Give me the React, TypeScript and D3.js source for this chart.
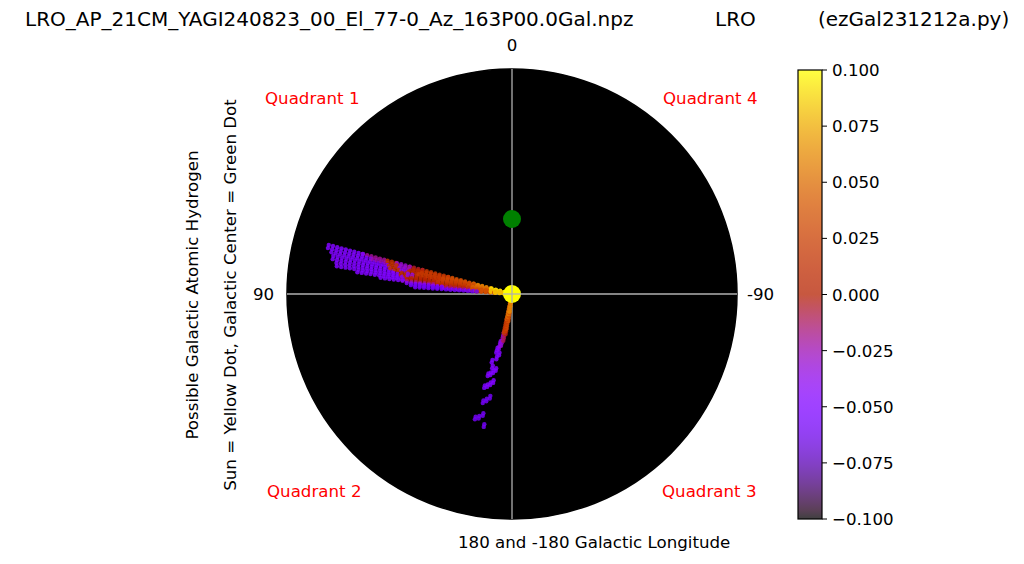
import React from "react";
import * as d3 from "d3";

// ---------- data ----------
const TITLE_PARTS = ["LRO_AP_21CM_YAGI240823_00_El_77-0_Az_163P00.0Gal.npz", "LRO", "(ezGal231212a.py)"];
const QUADRANTS = ["Quadrant 1", "Quadrant 2", "Quadrant 3", "Quadrant 4"];
const CBAR_TICKS = [-0.1, -0.075, -0.05, -0.025, 0, 0.025, 0.05, 0.075, 0.1];
const SUN_TO_GC_KPC = 8.5;
const PLOT_RADIUS_KPC = 25.5;

// Left arm: lines of sight (galactic longitude, deg) and value segments [dStart, dEnd, value] (kpc)
const LEFT_LON = [75, 76, 77, 78, 79, 80, 81, 82, 83, 84, 85, 86];
const LEFT_SEGMENTS: number[][][] = [
  [[0.4, 2.5, 0.09], [2.5, 4.5, 0.06], [4.5, 7.5, 0.035], [7.5, 10.5, 0.02], [10.5, 12, -0.005], [12, 13.6, -0.03], [13.6, 15, 0.015], [15, 17.5, -0.02], [17.5, 21.8, -0.05]],
  [[0.4, 2.5, 0.09], [2.5, 4.5, 0.06], [4.5, 7.5, 0.035], [7.5, 10.5, 0.02], [10.5, 12, 0.005], [12, 13.5, -0.03], [13.5, 14.8, 0.015], [14.8, 16.5, -0.025], [16.5, 21.5, -0.05]],
  [[0.4, 2.5, 0.09], [2.5, 4.5, 0.055], [4.5, 8, 0.03], [8, 10.8, 0.02], [10.8, 12.1, 0.005], [12.1, 13.3, -0.035], [13.3, 14.5, 0.015], [14.5, 21.3, -0.05]],
  [[0.4, 2.5, 0.09], [2.5, 4.5, 0.055], [4.5, 8.3, 0.03], [8.3, 11, 0.02], [11, 12.3, 0.01], [12.3, 13.1, -0.04], [13.1, 14.2, 0.015], [14.2, 21.0, -0.05]],
  [[0.4, 2.5, 0.085], [2.5, 4.5, 0.05], [4.5, 8.5, 0.025], [8.5, 11.5, 0.015], [11.5, 12.2, -0.04], [12.2, 13.7, 0.01], [13.7, 20.7, -0.05]],
  [[0.4, 2.5, 0.085], [2.5, 5, 0.05], [5, 8.5, 0.025], [8.5, 11.5, 0.01], [11.5, 12.3, -0.03], [12.3, 13.2, 0.01], [13.2, 20.4, -0.05]],
  [[0.4, 2.5, 0.085], [2.5, 5, 0.045], [5, 9, 0.02], [9, 11.6, 0.005], [11.6, 12.6, 0.01], [12.6, 20.1, -0.05]],
  [[0.4, 2.5, 0.08], [2.5, 5, 0.04], [5, 9, 0.015], [9, 12.2, 0.0], [12.2, 17.8, -0.05]],
  [[0.4, 2.5, 0.08], [2.5, 5, 0.035], [5, 9, 0.01], [9, 12.5, -0.015], [12.5, 15.2, -0.05]],
  [[0.4, 2.5, 0.08], [2.5, 5, 0.035], [5, 8, -0.01], [8, 12.4, -0.045]],
  [[0.4, 2, 0.08], [2, 4.2, 0.04], [4.2, 8, -0.045], [8, 11.8, -0.06]],
  [[0.4, 2, 0.08], [2, 4, 0.035], [4, 11.0, -0.06]],
];
const LEFT_STEP = 0.5;

// Lower arm
const LOWER_LON = [163.5, 165, 166.5, 168, 169.5, 171, 172.5];
const LOWER_SEGMENTS: number[][][] = [
  [[7.8, 8.2, -0.05], [9.4, 9.7, -0.05], [10.8, 11.1, -0.055], [14.5, 14.8, -0.06]],
  [[6.3, 7.0, -0.05], [8.4, 8.7, -0.05], [9.2, 9.5, -0.05], [10.6, 10.9, -0.05], [12.5, 12.8, -0.06], [14.3, 14.6, -0.06]],
  [[5.5, 6.6, -0.04], [7.3, 7.6, -0.05], [8.9, 9.2, -0.05], [10.3, 10.6, -0.05], [12.2, 12.5, -0.06], [13.9, 14.2, -0.06]],
  [[0.5, 3, 0.045], [3, 4.5, 0.02], [4.5, 6.0, -0.03], [6.8, 7.1, -0.05], [8.6, 8.9, -0.05], [10.0, 10.3, -0.05], [11.8, 12.1, -0.06], [15.1, 15.4, -0.06]],
  [[0.5, 2.8, 0.05], [2.8, 4.5, 0.025], [4.5, 5.4, -0.01]],
  [[0.5, 2.5, 0.06], [2.5, 4.0, 0.03], [4.0, 4.8, 0.005]],
  [[0.5, 2.2, 0.06], [2.2, 3.2, 0.035]],
];
const LOWER_STEP = 0.3;

// ---------- helpers ----------
function gnuplot(t: number): [number, number, number] {
  const x = Math.max(0, Math.min(1, t));
  const r = Math.sqrt(x);
  const g = x * x * x;
  const b = Math.max(0, Math.min(1, Math.sin(2 * Math.PI * x)));
  return [r * 255, g * 255, b * 255];
}
function rgb(c: [number, number, number]) {
  return `rgb(${Math.round(c[0])},${Math.round(c[1])},${Math.round(c[2])})`;
}

type Pt = { l: number; d: number; v: number };
function buildPoints(lons: number[], segs: number[][][], step: number): Pt[] {
  const out: Pt[] = [];
  lons.forEach((l, i) => {
    segs[i].forEach(([d0, d1, v]) => {
      for (let d = d0; d < d1 + 1e-9; d += step) out.push({ l, d, v });
    });
  });
  return out;
}

const W = 1024, H = 564;
const CX = 512, CY = 294, R = 225;
const FONT = "DejaVu Sans, sans-serif";
const FS = 16.67;

export default function App() {
  const rScale = d3.scaleLinear().domain([0, PLOT_RADIUS_KPC]).range([0, R]);
  const vNorm = d3.scaleLinear().domain([-0.1, 0.1]).range([0, 1]).clamp(true);
  const cbY = d3.scaleLinear().domain([-0.1, 0.1]).range([519, 70]);

  const pos = (l: number, d: number) => {
    const a = (l * Math.PI) / 180;
    return [CX - rScale(d) * Math.sin(a), CY - rScale(d) * Math.cos(a)];
  };

  const pts = [
    ...buildPoints(LEFT_LON, LEFT_SEGMENTS, LEFT_STEP),
    ...buildPoints(LOWER_LON, LOWER_SEGMENTS, LOWER_STEP),
  ].sort((a, b) => b.d - a.d);

  const stops = d3.range(0, 1.0001, 0.02).map((t) => {
    const c = gnuplot(t);
    const a = 0.75;
    return { t, c: rgb([c[0] * a + 255 * (1 - a), c[1] * a + 255 * (1 - a), c[2] * a + 255 * (1 - a)]) };
  });

  const gc = pos(0, SUN_TO_GC_KPC);
  const fmt = (v: number) => (v < 0 ? "\u2212" : "") + Math.abs(v).toFixed(3);

  return (
    <svg width={W} height={H} style={{ position: "absolute", left: 0, top: 0, background: "#fff" }} fontFamily={FONT}>
      <defs>
        <linearGradient id="cb" x1="0" y1="1" x2="0" y2="0">
          {stops.map((s) => (
            <stop key={s.t} offset={s.t} stopColor={s.c} />
          ))}
        </linearGradient>
      </defs>
      <rect width={W} height={H} fill="#fff" />
      {/* title */}
      <text x={25} y={26} fontSize={20}>{TITLE_PARTS[0]}</text>
      <text x={715} y={26} fontSize={20}>{TITLE_PARTS[1]}</text>
      <text x={818} y={26} fontSize={20}>{TITLE_PARTS[2]}</text>

      {/* plot circle */}
      <circle cx={CX} cy={CY} r={R} fill="#000" stroke="#000" strokeWidth={1.5} />
      <line x1={CX - R} x2={CX + R} y1={CY} y2={CY} stroke="#b0b0b0" strokeWidth={1.3} />
      <line x1={CX} x2={CX} y1={CY - R} y2={CY + R} stroke="#b0b0b0" strokeWidth={1.3} />

      {pts.map((p, i) => {
        const [x, y] = pos(p.l, p.d);
        return <circle key={i} cx={x} cy={y} r={2.2} fill={rgb(gnuplot(vNorm(p.v)))} fillOpacity={0.85} />;
      })}

      <circle cx={gc[0]} cy={gc[1]} r={9} fill="#008000" />
      <circle cx={CX} cy={CY} r={9} fill="#ffff00" />
      <line x1={CX - 9} x2={CX + 9} y1={CY} y2={CY} stroke="#b0b0b0" strokeWidth={1.3} />
      <line x1={CX} x2={CX} y1={CY - 9} y2={CY + 9} stroke="#b0b0b0" strokeWidth={1.3} />

      {/* direction labels */}
      <text x={CX} y={51} fontSize={FS} textAnchor="middle">0</text>
      <text x={253} y={300} fontSize={FS}>90</text>
      <text x={747} y={300} fontSize={FS}>-90</text>
      <text x={458} y={548} fontSize={FS}>180 and -180 Galactic Longitude</text>

      <text x={265} y={104} fontSize={FS} fill="red">{QUADRANTS[0]}</text>
      <text x={267} y={497} fontSize={FS} fill="red">{QUADRANTS[1]}</text>
      <text x={662} y={497} fontSize={FS} fill="red">{QUADRANTS[2]}</text>
      <text x={663} y={104} fontSize={FS} fill="red">{QUADRANTS[3]}</text>

      <text transform="translate(198,295) rotate(-90)" fontSize={FS} textAnchor="middle">Possible Galactic Atomic Hydrogen</text>
      <text transform="translate(236,295) rotate(-90)" fontSize={FS} textAnchor="middle">Sun = Yellow Dot, Galactic Center = Green Dot</text>

      {/* colorbar */}
      <rect x={798} y={70} width={24} height={449} fill="url(#cb)" stroke="#000" strokeWidth={1.2} />
      {CBAR_TICKS.map((t) => (
        <g key={t}>
          <line x1={822} x2={827} y1={cbY(t)} y2={cbY(t)} stroke="#000" strokeWidth={1} />
          <text x={832} y={cbY(t) + 6} fontSize={FS}>{fmt(t)}</text>
        </g>
      ))}
    </svg>
  );
}
